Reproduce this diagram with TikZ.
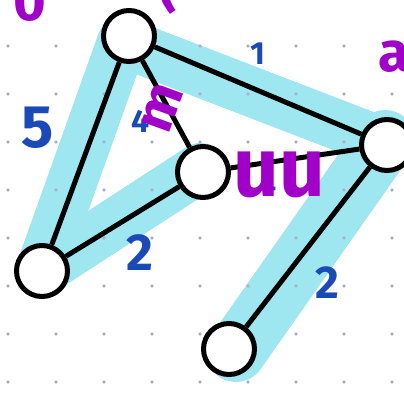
\documentclass[tikz,border=0pt]{standalone}
\usepackage{fontspec}
\setmainfont{Fira Sans}
\definecolor{hilite}{RGB}{158,231,240}
\definecolor{weight}{RGB}{26,74,184}
\definecolor{scribble}{RGB}{160,0,200}
\definecolor{griddot}{RGB}{165,178,210}

\begin{document}
\begin{tikzpicture}[x=1pt, y=-1pt,
        vert/.style={circle, draw, line width=5pt, fill=white, minimum size=51pt, inner sep=0pt},
        edge/.style={line width=5pt},
        marker/.style={hilite, line width=50pt, line cap=round, line join=round},
        wt/.style={text=weight, font=\bfseries\fontsize{52}{52}\selectfont},
        ink/.style={text=scribble, font=\bfseries\fontsize{56}{56}\selectfont}]
        \useasboundingbox (0,0) rectangle (404,394);
        \clip (0,0) rectangle (404,394);

        % highlighted tree
        \draw[marker] (40,272) -- (122,42) -- (382,142);
        \draw[marker] (40,272) -- (200,168);
        \draw[marker, line width=60pt] (385,140) -- (236,352);

        % dot grid
        \foreach \x in {8,56,...,392}
            \foreach \y in {46,94,...,382}
                \fill[griddot] (\x,\y) circle (1.8pt);

        \node[vert] (a) at (129,36) {};
        \node[vert] (b) at (203,172) {};
        \node[vert] (c) at (42,271) {};
        \node[vert] (d) at (387,145) {};
        \node[vert] (e) at (229,349) {};

        \draw[edge] (a) -- (b);
        \draw[edge] (a) -- (c);
        \draw[edge] (a) -- (d);
        \draw[edge] (b) -- (c);
        \draw[edge] (b) -- (d);
        \draw[edge] (d) -- (e);

        % weights
        \node[wt, font=\bfseries\fontsize{60}{60}\selectfont] (w5) at (38,128) {5};
        \node[wt, font=\bfseries\fontsize{32}{32}\selectfont] (w1) at (258,54) {1};
        \node[wt] (w2a) at (140,253) {2};
        \node[wt, font=\bfseries\fontsize{46}{46}\selectfont] (w2b) at (327,283) {2};
        \node[wt, font=\bfseries\fontsize{32}{32}\selectfont] (w4a) at (141,121) {4};
        \node[wt, font=\bfseries\fontsize{32}{32}\selectfont] (w4b) at (268,184) {4};

        % purple notes
        \node[ink, rotate=70] (xab) at (162,108) {m};
        \node[ink, font=\bfseries\fontsize{84}{84}\selectfont, xscale=0.95] (xbd) at (279,175) {uu};
        \node[ink] (la) at (394,57) {a};
        \node[ink] (lp) at (168,-14) {(};
        \node[ink] (lg) at (30,2) {0};
\end{tikzpicture}
\end{document}
